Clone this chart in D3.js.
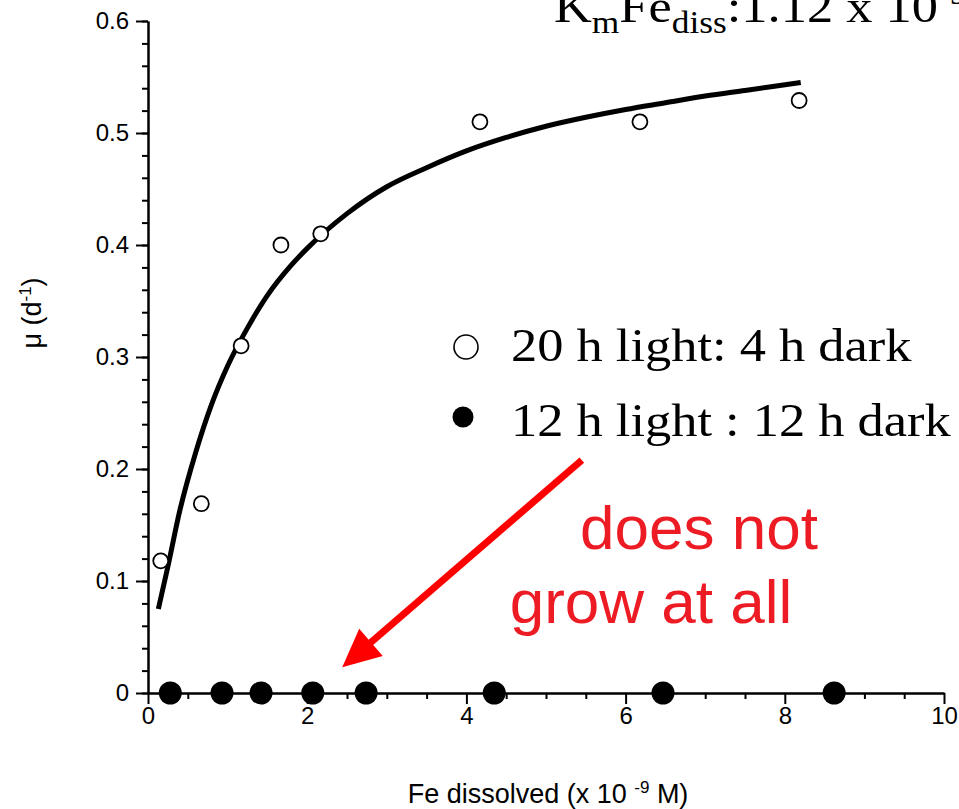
<!DOCTYPE html>
<html lang="en">
<head>
<meta charset="utf-8">
<title>Growth rate vs dissolved Fe</title>
<script src="https://d3js.org/d3.v7.min.js"></script>
<style>
    body { margin: 0; background: #fff; }
    #chart { display: block; }
    .axis path, .axis line { stroke: #000; stroke-width: 2px; fill: none; }
    .axis text { fill: #000; }
    .label { font-family: Arial, "Liberation Sans", sans-serif; font-size: 27px; fill: #000; }
    .serif { font-family: "Times New Roman", "Liberation Serif", serif; fill: #000; }
    .note { font-family: Arial, "Liberation Sans", sans-serif; font-size: 62px; fill: #ed1c24; }
</style>
</head>
<body>
<svg id="chart"></svg>
<script>
// 20 h light : 4 h dark
var feOpen = [0.16, 0.67, 1.17, 1.67, 2.17, 4.17, 6.18, 8.18];
var muOpen = [0.118, 0.169, 0.31, 0.40, 0.41, 0.51, 0.51, 0.529];
// 12 h light : 12 h dark
var feFilled = [0.28, 0.93, 1.42, 2.07, 2.74, 4.35, 6.47, 8.62];
var muFilled = [0, 0, 0, 0, 0, 0, 0, 0];
// fitted curve
var fitFe = [0.13, 0.25, 0.4, 0.6, 0.8, 1.0, 1.25, 1.5, 1.8, 2.0, 2.5, 3.0, 3.5, 4.0, 4.5, 5.0, 5.5, 6.0, 6.5, 7.0, 7.5, 8.2];
var fitMu = [0.075, 0.113, 0.163, 0.215, 0.258, 0.292, 0.326, 0.355, 0.382, 0.397, 0.428, 0.452, 0.469, 0.484, 0.496, 0.506, 0.514, 0.521, 0.527, 0.533, 0.538, 0.545];

var xTicks = [0, 2, 4, 6, 8, 10];
var xMinor = [0.5, 1, 1.5, 2.5, 3, 3.5, 4.5, 5, 5.5, 6.5, 7, 7.5, 8.5, 9, 9.5];
var yTicks = [0, 0.1, 0.2, 0.3, 0.4, 0.5, 0.6];
var yMinor = d3.range(0, 0.6001, 0.02);

var legendLabels = ["20 h light: 4 h dark", "12 h light : 12 h dark"];
var noteLines = ["does not", "grow at all"];
// arrow, in data units: [from, to]
var arrowFe = [5.45, 2.44];
var arrowMu = [0.208, 0.023];

var width = 959;
var height = 809;
var svg = d3.select("#chart").attr("width", width).attr("height", height);

var x = d3.scaleLinear().domain([0, 10]).range([148, 944]);
var y = d3.scaleLinear().domain([0, 0.6]).range([693, 21]);

// axes
svg.append("g").attr("class", "axis")
    .attr("transform", "translate(0," + y(0) + ")")
    .call(d3.axisBottom(x).tickValues(xMinor).tickSize(6).tickFormat("").tickSizeOuter(0));
svg.append("g").attr("class", "axis")
    .attr("transform", "translate(0," + y(0) + ")")
    .call(d3.axisBottom(x).tickValues(xTicks).tickSize(11).tickPadding(3).tickSizeOuter(0)
        .tickFormat(d3.format("d")))
    .attr("font-size", 24).attr("font-family", "Arial, 'Liberation Sans', sans-serif");

svg.append("g").attr("class", "axis")
    .attr("transform", "translate(" + x(0) + ",0)")
    .call(d3.axisLeft(y).tickValues(yMinor).tickSize(6).tickFormat("").tickSizeOuter(0));
svg.append("g").attr("class", "axis")
    .attr("transform", "translate(" + x(0) + ",0)")
    .call(d3.axisLeft(y).tickValues(yTicks).tickSize(12).tickPadding(7).tickSizeOuter(0)
        .tickFormat(function(d) { return d === 0 ? "0" : d3.format(".1f")(d); }))
    .attr("font-size", 24).attr("font-family", "Arial, 'Liberation Sans', sans-serif");

// axis titles
var xl = svg.append("text").attr("class", "label")
    .attr("x", 548).attr("y", 803).attr("text-anchor", "middle");
xl.append("tspan").text("Fe dissolved (x 10 ");
xl.append("tspan").attr("dy", -10).attr("font-size", "17px").text("-9");
xl.append("tspan").attr("dy", 10).text(" M)");

var yl = svg.append("text").attr("class", "label")
    .attr("transform", "translate(41,313) rotate(-90)").attr("text-anchor", "middle");
yl.append("tspan").text("\u03bc (d");
yl.append("tspan").attr("dy", -10).attr("font-size", "17px").text("-1");
yl.append("tspan").attr("dy", 10).text(")");

// fit curve
var line = d3.line()
    .x(function(d) { return x(d[0]); })
    .y(function(d) { return y(d[1]); })
    .curve(d3.curveMonotoneX);
svg.append("path")
    .datum(d3.zip(fitFe, fitMu))
    .attr("d", line)
    .attr("fill", "none")
    .attr("stroke", "#000")
    .attr("stroke-width", 5);

// points
svg.selectAll(".open")
    .data(d3.zip(feOpen, muOpen))
    .enter().append("circle")
    .attr("class", "open")
    .attr("cx", function(d) { return x(d[0]); })
    .attr("cy", function(d) { return y(d[1]); })
    .attr("r", 7.5)
    .attr("fill", "#fff")
    .attr("stroke", "#000")
    .attr("stroke-width", 1.8);

svg.selectAll(".filled")
    .data(d3.zip(feFilled, muFilled))
    .enter().append("circle")
    .attr("class", "filled")
    .attr("cx", function(d) { return x(d[0]); })
    .attr("cy", function(d) { return y(d[1]); })
    .attr("r", 11.5)
    .attr("fill", "#000");

// title (runs off the top and right edges, as in the original)
var t = svg.append("text").attr("class", "serif")
    .attr("font-size", "46px")
    .attr("transform", "translate(554,22) scale(1.14,1)");
t.append("tspan").text("K");
t.append("tspan").attr("dy", 11).attr("font-size", "31px").text("m");
t.append("tspan").attr("dy", -11).text("Fe");
t.append("tspan").attr("dy", 11).attr("font-size", "31px").text("diss");
t.append("tspan").attr("dy", -11).text(":1.12 x 10");
t.append("tspan").attr("dy", -18).attr("font-size", "31px").text("-9");
t.append("tspan").attr("dy", 18).text(" M");

// legend
svg.append("circle").attr("cx", 466).attr("cy", 347).attr("r", 12)
    .attr("fill", "#fff").attr("stroke", "#000").attr("stroke-width", 1.6);
svg.append("circle").attr("cx", 463).attr("cy", 417).attr("r", 10.5).attr("fill", "#000");
svg.selectAll(".leg")
    .data(legendLabels)
    .enter().append("text")
    .attr("class", "serif leg")
    .attr("font-size", "46px")
    .attr("transform", function(d, i) { return "translate(511," + (361 + i * 75) + ") scale(1.14,1)"; })
    .text(function(d) { return d; });

// red note
svg.append("text").attr("class", "note").attr("x", 699).attr("y", 549)
    .attr("text-anchor", "middle").text(noteLines[0]);
svg.append("text").attr("class", "note").attr("x", 651).attr("y", 623)
    .attr("text-anchor", "middle").text(noteLines[1]);

// arrow
var ax0 = x(arrowFe[0]), ay0 = y(arrowMu[0]), ax1 = x(arrowFe[1]), ay1 = y(arrowMu[1]);
var ang = Math.atan2(ay1 - ay0, ax1 - ax0);
var headLen = 38, headHalf = 18;
var bx = ax1 - headLen * Math.cos(ang), by = ay1 - headLen * Math.sin(ang);
svg.append("line")
    .attr("x1", ax0).attr("y1", ay0).attr("x2", bx + 2 * Math.cos(ang)).attr("y2", by + 2 * Math.sin(ang))
    .attr("stroke", "#ff0000").attr("stroke-width", 7);
svg.append("polygon")
    .attr("points", [
        [ax1, ay1],
        [bx + headHalf * Math.sin(ang), by - headHalf * Math.cos(ang)],
        [bx - headHalf * Math.sin(ang), by + headHalf * Math.cos(ang)]
    ].map(function(p) { return p.join(","); }).join(" "))
    .attr("fill", "#ff0000");
</script>
</body>
</html>
